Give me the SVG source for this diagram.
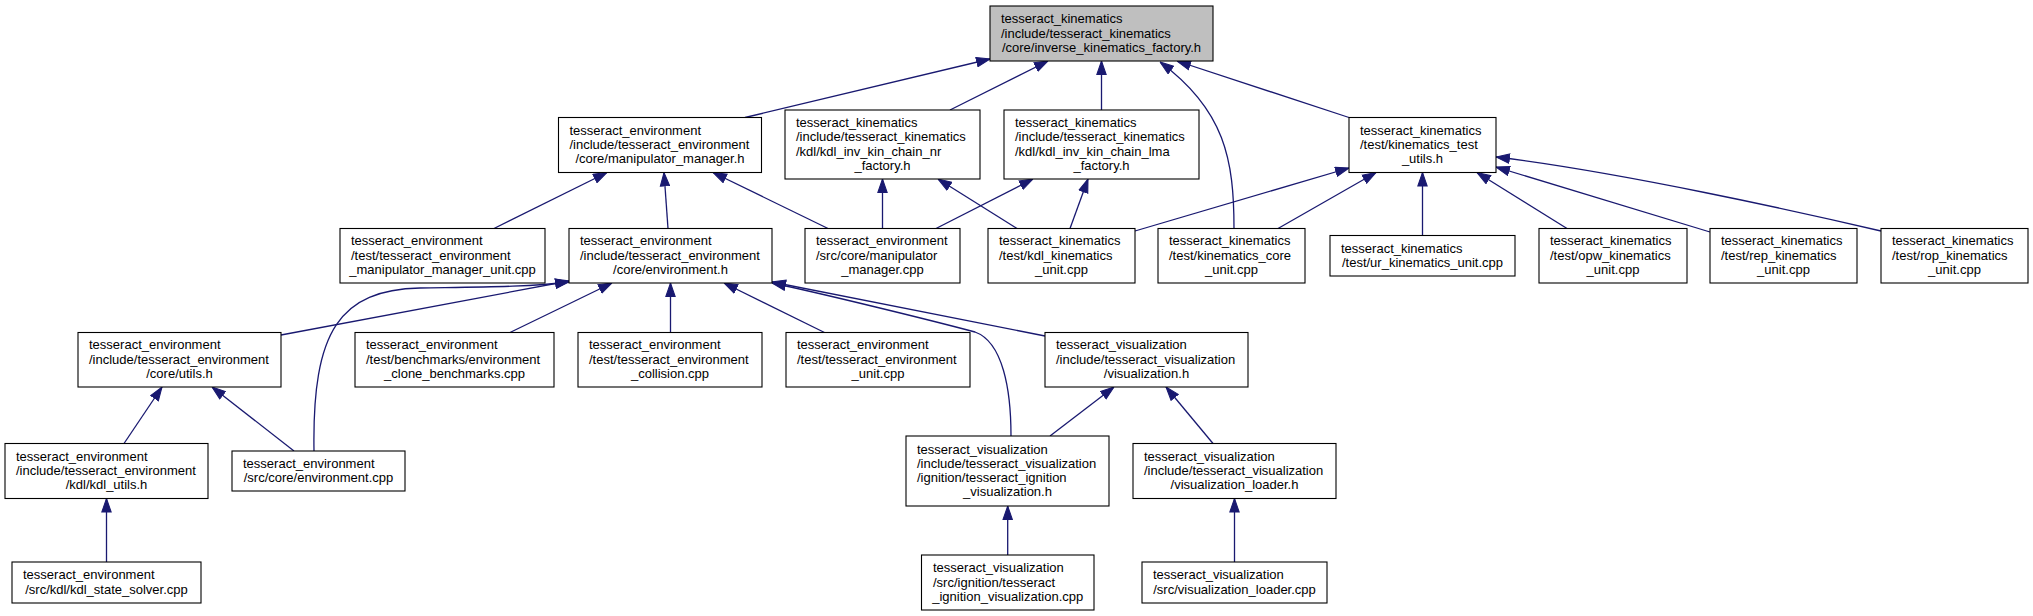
<svg xmlns="http://www.w3.org/2000/svg" width="2033" height="616" viewBox="0 0 2033 616">
<defs>
<style>
.n rect{fill:#fff;stroke:#000;stroke-width:1.1}
.n.root rect{fill:#bfbfbf}
.n text{font-family:"Liberation Sans",Arial,sans-serif;font-size:13px;fill:#000}
.m{text-anchor:middle}
.e path{fill:none;stroke:#191970;stroke-width:1.3;marker-end:url(#ah)}
</style>
<marker id="ah" markerUnits="userSpaceOnUse" markerWidth="14" markerHeight="11" viewBox="0 0 13.5 10" refX="13.5" refY="5" orient="auto">
<path d="M0.5,0.5 L13.5,5 L0.5,9.5 z" fill="#191970" stroke="#191970" stroke-width="1"/>
</marker>
</defs>
<rect width="2033" height="616" fill="#fff"/>
<g id="edges" class="e">
<path d="M745,117.5 L990,59"/>
<path d="M950,110 L1048,61"/>
<path d="M1101.5,110 L1101.5,61"/>
<path d="M1234,228.5 C1234,160 1225,110 1160,62"/>
<path d="M1349,117.5 L1177,61"/>
<path d="M494,228.5 L607,172.5"/>
<path d="M668,228.5 L664,172.5"/>
<path d="M828,228.5 L713,172.5"/>
<path d="M882.5,228.5 L882.5,179"/>
<path d="M1017,228.5 L938,179"/>
<path d="M936,228.5 L1033,179"/>
<path d="M1070,228.5 L1088,179"/>
<path d="M1135,231 L1349,168"/>
<path d="M1278,228.5 L1376,172.5"/>
<path d="M1422.5,235.5 L1422.5,172.5"/>
<path d="M1567,228.5 L1477,172.5"/>
<path d="M1710,232 L1496,167"/>
<path d="M1881,231 C1800,212 1620,172 1496,157"/>
<path d="M281,335 L569,281"/>
<path d="M314,451 C312,330 340,290 420,288 C480,287 530,287 569,282"/>
<path d="M510,332.5 L612,283"/>
<path d="M670.5,332.5 L670.5,283"/>
<path d="M824.5,332.5 L724,283"/>
<path d="M1045,336 L772,282"/>
<path d="M1011,436 C1011,390 1003,342 975,332 C930,320 820,293 772,283"/>
<path d="M124,443.5 L162,387"/>
<path d="M294,451 L212,387"/>
<path d="M106.5,562 L106.5,498.5"/>
<path d="M1050,436 L1114,387"/>
<path d="M1213,443.5 L1166,387"/>
<path d="M1007.7,555 L1007.7,506"/>
<path d="M1234.5,562 L1234.5,498.5"/>
</g>
<g id="n0" class="n root"><rect x="990" y="6" width="223" height="55"/>
<text x="1001" y="23.2">tesseract_kinematics</text><text x="1001" y="37.5">/include/tesseract_kinematics</text><text class="m" x="1101.5" y="51.8">/core/inverse_kinematics_factory.h</text></g>
<g id="n1" class="n"><rect x="558.5" y="117.5" width="203" height="55"/>
<text x="569.5" y="134.7">tesseract_environment</text><text x="569.5" y="149">/include/tesseract_environment</text><text class="m" x="660" y="163.3">/core/manipulator_manager.h</text></g>
<g id="n2" class="n"><rect x="785" y="110" width="195" height="69"/>
<text x="796" y="127.05">tesseract_kinematics</text><text x="796" y="141.35">/include/tesseract_kinematics</text><text x="796" y="155.65">/kdl/kdl_inv_kin_chain_nr</text><text class="m" x="882.5" y="169.95">_factory.h</text></g>
<g id="n3" class="n"><rect x="1004" y="110" width="195" height="69"/>
<text x="1015" y="127.05">tesseract_kinematics</text><text x="1015" y="141.35">/include/tesseract_kinematics</text><text x="1015" y="155.65">/kdl/kdl_inv_kin_chain_lma</text><text class="m" x="1101.5" y="169.95">_factory.h</text></g>
<g id="n4" class="n"><rect x="1349" y="117.5" width="147" height="55"/>
<text x="1360" y="134.7">tesseract_kinematics</text><text x="1360" y="149">/test/kinematics_test</text><text class="m" x="1422.5" y="163.3">_utils.h</text></g>
<g id="n5" class="n"><rect x="340" y="228.5" width="205" height="54.5"/>
<text x="351" y="245.45">tesseract_environment</text><text x="351" y="259.75">/test/tesseract_environment</text><text class="m" x="442.5" y="274.05">_manipulator_manager_unit.cpp</text></g>
<g id="n6" class="n"><rect x="569" y="228.5" width="203" height="54.5"/>
<text x="580" y="245.45">tesseract_environment</text><text x="580" y="259.75">/include/tesseract_environment</text><text class="m" x="670.5" y="274.05">/core/environment.h</text></g>
<g id="n7" class="n"><rect x="805" y="228.5" width="155" height="54.5"/>
<text x="816" y="245.45">tesseract_environment</text><text x="816" y="259.75">/src/core/manipulator</text><text class="m" x="882.5" y="274.05">_manager.cpp</text></g>
<g id="n8" class="n"><rect x="988" y="228.5" width="147" height="54.5"/>
<text x="999" y="245.45">tesseract_kinematics</text><text x="999" y="259.75">/test/kdl_kinematics</text><text class="m" x="1061.5" y="274.05">_unit.cpp</text></g>
<g id="n9" class="n"><rect x="1158" y="228.5" width="147" height="54.5"/>
<text x="1169" y="245.45">tesseract_kinematics</text><text x="1169" y="259.75">/test/kinematics_core</text><text class="m" x="1231.5" y="274.05">_unit.cpp</text></g>
<g id="n10" class="n"><rect x="1330" y="235.5" width="185" height="40.5"/>
<text x="1341" y="252.6">tesseract_kinematics</text><text class="m" x="1422.5" y="266.9">/test/ur_kinematics_unit.cpp</text></g>
<g id="n11" class="n"><rect x="1539" y="228.5" width="148" height="54.5"/>
<text x="1550" y="245.45">tesseract_kinematics</text><text x="1550" y="259.75">/test/opw_kinematics</text><text class="m" x="1613" y="274.05">_unit.cpp</text></g>
<g id="n12" class="n"><rect x="1710" y="228.5" width="147" height="54.5"/>
<text x="1721" y="245.45">tesseract_kinematics</text><text x="1721" y="259.75">/test/rep_kinematics</text><text class="m" x="1783.5" y="274.05">_unit.cpp</text></g>
<g id="n13" class="n"><rect x="1881" y="228.5" width="147" height="54.5"/>
<text x="1892" y="245.45">tesseract_kinematics</text><text x="1892" y="259.75">/test/rop_kinematics</text><text class="m" x="1954.5" y="274.05">_unit.cpp</text></g>
<g id="n14" class="n"><rect x="78" y="332.5" width="203" height="54.5"/>
<text x="89" y="349.45">tesseract_environment</text><text x="89" y="363.75">/include/tesseract_environment</text><text class="m" x="179.5" y="378.05">/core/utils.h</text></g>
<g id="n15" class="n"><rect x="355" y="332.5" width="199" height="54.5"/>
<text x="366" y="349.45">tesseract_environment</text><text x="366" y="363.75">/test/benchmarks/environment</text><text class="m" x="454.5" y="378.05">_clone_benchmarks.cpp</text></g>
<g id="n16" class="n"><rect x="578" y="332.5" width="184" height="54.5"/>
<text x="589" y="349.45">tesseract_environment</text><text x="589" y="363.75">/test/tesseract_environment</text><text class="m" x="670" y="378.05">_collision.cpp</text></g>
<g id="n17" class="n"><rect x="786" y="332.5" width="184" height="54.5"/>
<text x="797" y="349.45">tesseract_environment</text><text x="797" y="363.75">/test/tesseract_environment</text><text class="m" x="878" y="378.05">_unit.cpp</text></g>
<g id="n18" class="n"><rect x="1045" y="332.5" width="203" height="54.5"/>
<text x="1056" y="349.45">tesseract_visualization</text><text x="1056" y="363.75">/include/tesseract_visualization</text><text class="m" x="1146.5" y="378.05">/visualization.h</text></g>
<g id="n19" class="n"><rect x="5" y="443.5" width="203" height="55"/>
<text x="16" y="460.7">tesseract_environment</text><text x="16" y="475">/include/tesseract_environment</text><text class="m" x="106.5" y="489.3">/kdl/kdl_utils.h</text></g>
<g id="n20" class="n"><rect x="232" y="451" width="173" height="40"/>
<text x="243" y="467.85">tesseract_environment</text><text class="m" x="318.5" y="482.15">/src/core/environment.cpp</text></g>
<g id="n21" class="n"><rect x="906" y="436" width="203" height="70"/>
<text x="917" y="453.55">tesseract_visualization</text><text x="917" y="467.85">/include/tesseract_visualization</text><text x="917" y="482.15">/ignition/tesseract_ignition</text><text class="m" x="1007.5" y="496.45">_visualization.h</text></g>
<g id="n22" class="n"><rect x="1133" y="443.5" width="203" height="55"/>
<text x="1144" y="460.7">tesseract_visualization</text><text x="1144" y="475">/include/tesseract_visualization</text><text class="m" x="1234.5" y="489.3">/visualization_loader.h</text></g>
<g id="n23" class="n"><rect x="12" y="562" width="189" height="41"/>
<text x="23" y="579.35">tesseract_environment</text><text class="m" x="106.5" y="593.65">/src/kdl/kdl_state_solver.cpp</text></g>
<g id="n24" class="n"><rect x="921.5" y="555" width="172.5" height="55"/>
<text x="933" y="572.2">tesseract_visualization</text><text x="933" y="586.5">/src/ignition/tesseract</text><text class="m" x="1007.75" y="600.8">_ignition_visualization.cpp</text></g>
<g id="n25" class="n"><rect x="1142" y="562" width="185" height="41"/>
<text x="1153" y="579.35">tesseract_visualization</text><text class="m" x="1234.5" y="593.65">/src/visualization_loader.cpp</text></g>
</svg>
